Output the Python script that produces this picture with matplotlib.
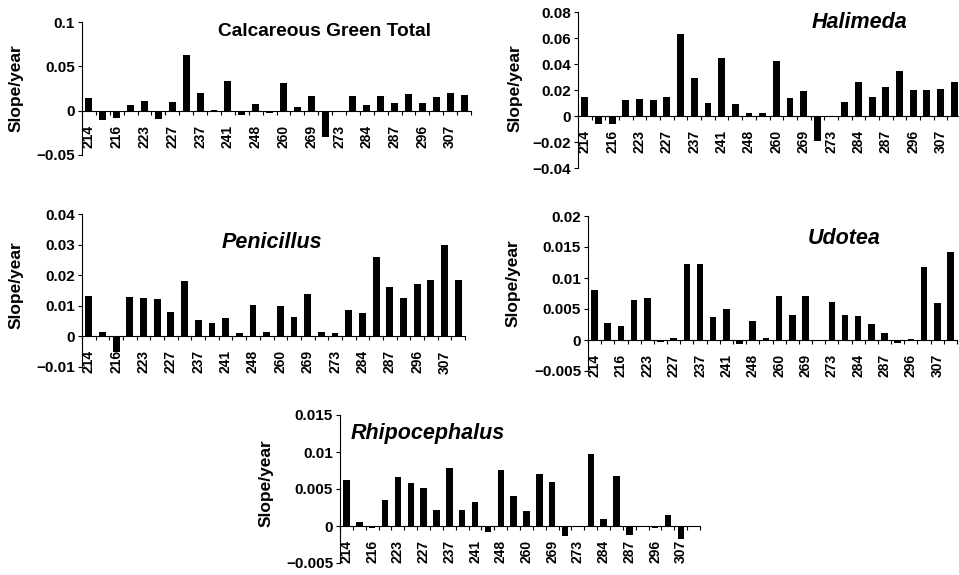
import matplotlib
matplotlib.use('Agg')
import matplotlib.pyplot as plt
import numpy as np

plt.rcParams['font.family'] = ['Liberation Sans', 'DejaVu Sans']
plt.rcParams['font.weight'] = 'bold'

# every other category gets a label
sites = ['214', '216', '223', '227', '237', '241', '248',
         '260', '269', '273', '284', '287', '296', '307']

calc_total = [0.014, -0.010, -0.008, 0.006, 0.011, -0.009, 0.010, 0.063,
              0.020, 0.001, 0.034, -0.005, 0.008, -0.003, 0.031, 0.004,
              0.017, -0.030, -0.002, 0.016, 0.006, 0.017, 0.009, 0.019,
              0.009, 0.015, 0.020, 0.018]
halimeda = [0.015, -0.006, -0.006, 0.012, 0.013, 0.0125, 0.015, 0.063,
            0.029, 0.010, 0.045, 0.0095, 0.002, 0.002, 0.042, 0.014,
            0.019, -0.019, -0.001, 0.011, 0.026, 0.0145, 0.0225, 0.035,
            0.020, 0.020, 0.0205, 0.026]
penicillus = [0.0133, 0.0013, -0.005, 0.013, 0.0125, 0.0122, 0.008, 0.018,
              0.0055, 0.0045, 0.006, 0.001, 0.0103, 0.0013, 0.010, 0.0065,
              0.014, 0.0015, 0.001, 0.0085, 0.0078, 0.0258, 0.016, 0.0125,
              0.017, 0.0183, 0.030, 0.0185]
udotea = [0.008, 0.0027, 0.0022, 0.0065, 0.0068, -0.0003, 0.0003, 0.0122,
          0.0122, 0.0037, 0.005, -0.0007, 0.0031, 0.0004, 0.0071, 0.0041,
          0.0071, -0.0002, 0.0061, 0.004, 0.0039, 0.0026, 0.0012, -0.0005,
          0.0002, 0.0118, 0.006, 0.0142]
rhipo = [0.0062, 0.0006, -0.0003, 0.0035, 0.0066, 0.0058, 0.0051, 0.0021,
         0.0078, 0.0022, 0.0032, -0.0008, 0.0076, 0.0041, 0.002, 0.007,
         0.006, -0.0014, 0.0, 0.0097, 0.0009, 0.0067, -0.0012, 0.0,
         -0.0003, 0.0015, -0.0017, 0.0]

W, H = 959, 575
fig = plt.figure(figsize=(W / 100, H / 100), dpi=100)


def make_panel(vals, title, italic, box, yticks, yticklabels, title_xy, ylab_xy):
    left, right, top, bottom = box
    ax = fig.add_axes([left / W, 1 - bottom / H, (right - left) / W, (bottom - top) / H])
    x = np.arange(len(vals))
    ax.bar(x, vals, width=0.5, color='black')
    ax.set_xlim(-0.5, len(vals) - 0.5)
    ax.set_ylim(yticks[0], yticks[-1])
    ax.set_yticks(yticks)
    ax.set_yticklabels(yticklabels, fontsize=11, fontweight='bold')
    ax.set_xticks(x[::2])
    ax.set_xticklabels(sites, fontsize=12, fontweight='bold')
    ax.set_xticks(np.arange(len(vals) + 1) - 0.5, minor=True)
    ax.tick_params(axis='x', which='major', length=0, pad=10, labelrotation=90)
    ax.tick_params(axis='x', which='minor', length=3, direction='out', width=0.8)
    ax.tick_params(axis='y', length=3, width=0.8, pad=2)
    for s in ['top', 'right']:
        ax.spines[s].set_visible(False)
    ax.spines['bottom'].set_position(('data', 0))
    ax.spines['bottom'].set_linewidth(0.8)
    ax.spines['left'].set_linewidth(0.8)
    ax.patch.set_alpha(0)
    fig.text(title_xy[0] / W, 1 - title_xy[1] / H, title,
             fontsize=15.5 if italic else 13.8,
             fontweight='bold', style='italic' if italic else 'normal',
             ha='center', va='center')
    fig.text(ylab_xy[0] / W, 1 - ylab_xy[1] / H, 'Slope/year', fontsize=12.5,
             fontweight='bold', rotation=90, ha='center', va='center')
    return ax


make_panel(calc_total, 'Calcareous Green Total', False, (82, 471, 22, 155),
           [-0.05, 0, 0.05, 0.1], ['\u22120.05', '0', '0.05', '0.1'],
           (325, 32), (16, 88))
make_panel(halimeda, 'Halimeda', True, (578, 961, 12, 168),
           [-0.04, -0.02, 0, 0.02, 0.04, 0.06, 0.08],
           ['\u22120.04', '\u22120.02', '0', '0.02', '0.04', '0.06', '0.08'],
           (860, 23), (515, 88))
make_panel(penicillus, 'Penicillus', True, (82, 465, 214, 367),
           [-0.01, 0, 0.01, 0.02, 0.03, 0.04],
           ['\u22120.01', '0', '0.01', '0.02', '0.03', '0.04'],
           (272, 243), (16, 285))
make_panel(udotea, 'Udotea', True, (588, 957, 216, 371),
           [-0.005, 0, 0.005, 0.01, 0.015, 0.02],
           ['\u22120.005', '0', '0.005', '0.01', '0.015', '0.02'],
           (844, 239), (513, 283))
make_panel(rhipo, 'Rhipocephalus', True, (340, 700, 415, 563),
           [-0.005, 0, 0.005, 0.01, 0.015],
           ['\u22120.005', '0', '0.005', '0.01', '0.015'],
           (428, 433), (266, 483))

fig.savefig('out.png', dpi=100)
